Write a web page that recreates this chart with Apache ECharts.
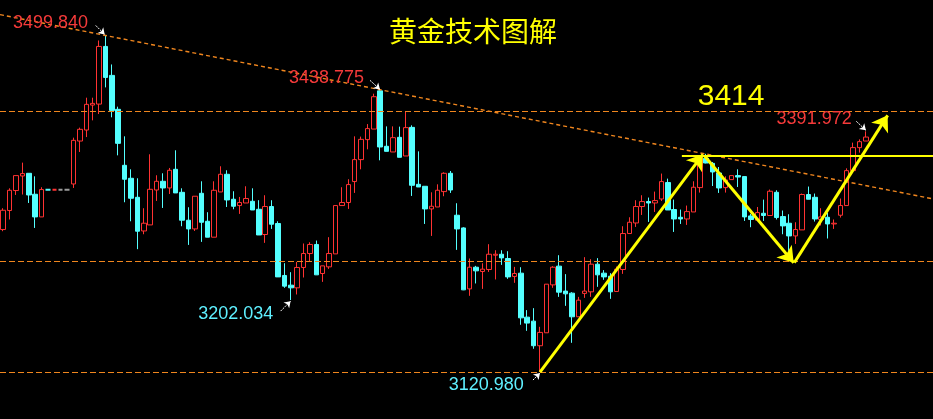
<!DOCTYPE html>
<html>
<head>
<meta charset="utf-8">
<script src="https://cdn.jsdelivr.net/npm/echarts@6/dist/echarts.min.js"></script>
<style>
html,body{margin:0;padding:0;background:#000;}
#chart{width:933px;height:419px;}
</style>
</head>
<body>
<div id="chart"></div>
<script>
// ---- data (one entry per candle) ----
const opens = [3281.4,3302.8,3325.3,3341.7,3344.7,3321.1,3295.6,3326.2,3326.2,3326.2,3326.2,3332.7,3381.0,3393.4,3421.5,3422.6,3487.5,3454.9,3416.7,3353.7,
3339.1,3317.7,3279.8,3286.6,3325.9,3335.7,3328.2,3349.2,3323.3,3291.9,3282.1,3322.2,3290.7,3272.8,3323.7,3343.6,3315.5,3308.4,3311.3,3313.2,
3304.2,3275.8,3307.3,3288.2,3229.7,3218.8,3215.8,3238.7,3254.4,3264.6,3231.9,3239.4,3254.0,3308.4,3311.8,3335.4,3360.1,3382.6,3394.5,3437.5,
3375.1,3368.7,3385.2,3364.2,3396.4,3332.3,3330.1,3304.6,3306.8,3324.1,3344.7,3297.5,3283.2,3214.6,3239.0,3234.2,3236.4,3252.5,3253.6,3248.8,
3228.6,3232.3,3182.8,3178.3,3150.6,3165.2,3219.1,3240.2,3212.1,3209.8,3183.2,3209.5,3211.3,3242.4,3232.3,3228.9,3211.7,3236.4,3276.9,3288.8,
3307.3,3312.9,3311.3,3315.8,3334.3,3303.9,3295.2,3293.3,3301.2,3328.6,3361.6,3355.9,3345.0,3328.6,3337.6,3342.1,3341.0,3296.7,3291.9,3299.7,
3297.2,3323.3,3296.0,3288.5,3274.2,3281.0,3320.8,3317.7,3292.7,3295.2,3287.7,3297.5,3308.4,3347.7,3373.6,3381.0];
const closes = [3303.1,3325.6,3342.1,3344.4,3320.3,3295.6,3326.4,3326.2,3326.2,3326.2,3326.2,3381.8,3394.2,3422.3,3423.4,3487.5,3452.6,3415.5,3378.4,3338.0,
3316.6,3279.5,3288.5,3326.7,3335.7,3328.2,3348.1,3322.6,3291.9,3282.1,3318.9,3289.6,3272.8,3325.6,3343.6,3314.7,3307.6,3311.8,3316.3,3303.4,
3275.3,3307.3,3287.4,3228.1,3217.7,3215.8,3238.7,3254.4,3264.6,3230.4,3240.5,3254.4,3308.4,3311.8,3332.0,3360.1,3382.9,3395.0,3430.9,3374.3,
3369.4,3384.8,3362.7,3396.1,3331.2,3329.3,3304.6,3307.6,3325.6,3344.7,3325.9,3282.1,3213.5,3239.0,3234.9,3236.8,3253.6,3253.6,3249.5,3228.1,
3231.9,3182.0,3176.1,3150.6,3165.6,3219.9,3239.0,3210.9,3209.0,3183.2,3201.9,3212.1,3242.4,3230.4,3228.1,3211.3,3236.8,3276.9,3289.6,3307.3,
3312.9,3311.3,3314.0,3335.4,3303.4,3293.3,3293.3,3301.6,3329.0,3361.6,3356.3,3346.2,3328.2,3337.2,3342.1,3340.5,3295.6,3292.7,3300.5,3297.2,
3324.5,3294.9,3285.5,3274.2,3281.4,3320.8,3315.5,3293.3,3295.6,3287.7,3288.5,3308.4,3347.7,3373.6,3380.3,3385.5];
const lows = [3279.5,3292.7,3320.3,3320.8,3311.3,3283.2,3295.6,3326.2,3326.2,3326.2,3326.2,3328.2,3368.7,3385.5,3404.3,3411.4,3441.4,3407.7,3364.9,3312.1,
3290.7,3259.3,3276.1,3286.6,3313.6,3305.7,3321.4,3322.6,3285.1,3264.1,3279.8,3267.5,3272.8,3272.8,3323.7,3306.8,3304.2,3299.0,3311.3,3303.4,
3275.3,3266.4,3282.1,3228.1,3215.8,3202.034,3208.3,3227.4,3245.0,3230.4,3222.5,3237.1,3254.0,3308.4,3304.6,3322.6,3349.2,3371.7,3394.5,3359.3,
3369.4,3368.7,3362.7,3364.2,3319.2,3329.3,3287.7,3274.2,3306.8,3318.9,3322.6,3258.5,3213.2,3206.8,3220.7,3214.6,3233.7,3225.2,3241.6,3225.9,
3221.4,3174.2,3167.4,3147.2,3120.98,3165.2,3215.8,3205.6,3195.5,3153.9,3183.2,3204.5,3205.6,3216.9,3224.8,3203.4,3211.7,3231.5,3276.9,3284.3,
3297.8,3290.0,3301.2,3313.6,3303.4,3278.7,3287.7,3286.6,3301.2,3323.0,3355.9,3330.4,3322.6,3323.0,3337.6,3329.3,3291.1,3284.0,3291.9,3291.1,
3297.2,3292.7,3276.1,3257.4,3265.2,3281.0,3315.5,3290.4,3285.9,3271.3,3282.1,3294.9,3308.4,3347.7,3368.0,3381.0];
const highs = [3305.4,3327.8,3342.1,3356.7,3344.7,3341.3,3329.0,3326.2,3326.2,3326.2,3326.2,3384.8,3396.1,3429.8,3429.8,3494.2,3499.84,3467.2,3419.7,3386.3,
3349.2,3339.1,3305.4,3366.1,3342.5,3344.7,3350.7,3370.6,3327.8,3306.5,3318.9,3335.7,3300.9,3335.7,3352.6,3348.1,3324.5,3318.1,3330.1,3327.8,
3314.4,3320.0,3314.4,3290.7,3243.5,3233.4,3245.0,3265.7,3267.1,3269.0,3240.5,3272.8,3308.4,3329.0,3338.0,3386.3,3386.0,3400.1,3434.3,3438.775,
3397.5,3397.5,3397.2,3414.1,3398.7,3369.4,3330.1,3323.3,3332.3,3345.8,3347.3,3311.0,3284.0,3248.8,3240.5,3243.5,3264.9,3258.1,3258.1,3257.0,
3239.4,3239.0,3190.7,3192.9,3171.9,3219.9,3240.2,3252.5,3231.2,3210.9,3205.6,3250.3,3248.0,3249.2,3235.7,3232.3,3239.8,3285.1,3295.2,3314.4,
3320.0,3317.4,3324.1,3344.4,3338.7,3315.1,3303.9,3308.4,3335.7,3363.8,3366.6,3357.4,3351.8,3341.3,3342.1,3349.2,3341.0,3299.0,3306.8,3315.1,
3326.4,3325.6,3302.8,3298.6,3289.6,3321.9,3329.8,3321.9,3305.4,3300.5,3292.7,3316.3,3350.3,3379.2,3382.9,3391.972];
const emptySlots = 10;                          // blank room on the right
const categories = opens.map((_, i) => 'K' + (i + 1))
  .concat(Array.from({length: emptySlots}, (_, i) => 'E' + (i + 1)));

// flat (no-move) candles and their tone
const flatCandles = [7, 8, 9, 10];
const flatTones = ['down', 'up', 'flat', 'flat'];

// reference levels
const levels = [3414.4, 3245.8, 3120.98];
// trend line through the two highs: [candle index, price]
const trendAnchors = [[16, 3499.84], [59, 3438.775]];
// drawn strokes: [fromIndex, fromPrice, toIndex, toPrice]
const strokes = [
  [84, 3120.98, 109.5, 3366.1],
  [109.8, 3363.8, 123.7, 3244.1],
  [123.8, 3244.1, 138.4, 3409.9]
];
const resistance = [106.2, 145.5, 3364.9];
// price tags: [text, index, price, tone]
const tags = [
  ['3499.840', 7.4, 3513.3, 'up'],
  ['3438.775', 50.6, 3452.1, 'up'],
  ['3202.034', 36.4, 3186.2, 'down'],
  ['3120.980', 75.6, 3106.4, 'down'],
  ['3391.972', 126.9, 3405.4, 'up']
];
// small pointers from tags to extremes: [fromIndex, fromPrice, toIndex, toPrice]
const pointers = [
  [14.48, 3511.1, 15.88, 3501.0],
  [57.4, 3449.3, 58.96, 3439.1],
  [43.41, 3189.6, 44.97, 3200.8],
  [82.9, 3112.0, 84.0, 3119.9],
  [133.5, 3403.2, 135.0, 3393.1]
];
const bigTag = ['3414', 113.9, 3431.3];
const titleText = '黄金技术图解';

// ---- styles ----
const UP = '#ff3232', DOWN = '#54ffff', FLAT = '#9a9a9a';
const toneColor = {up: UP, down: DOWN, flat: FLAT};
const ORANGE = '#f0861e', YELLOW = '#ffff00';
const numFont = '"Liberation Sans", Arial, sans-serif';

const candleData = opens.map((o, i) => {
  const item = {value: [o, closes[i], lows[i], highs[i]]};
  const k = flatCandles.indexOf(i);
  if (k >= 0) {
    const c = toneColor[flatTones[k]];
    item.itemStyle = {color: c, color0: c, borderColor: c, borderColor0: c, borderColorDoji: c, borderWidth: 2};
  }
  return item;
});

const slope = (trendAnchors[1][1] - trendAnchors[0][1]) / (trendAnchors[1][0] - trendAnchors[0][0]);
const trendAt = x => trendAnchors[0][1] + (x - trendAnchors[0][0]) * slope;
const xMin = -0.5, xMax = categories.length - 0.5;

const markLines = [];
levels.forEach(v => markLines.push({yAxis: v, symbol: 'none',
  lineStyle: {color: ORANGE, width: 1, type: [6, 3]}}));
markLines.push([
  {coord: [xMin, trendAt(xMin)], symbol: 'none', lineStyle: {color: ORANGE, width: 1.4, type: [4, 3]}},
  {coord: [xMax, trendAt(xMax)], symbol: 'none'}
]);
markLines.push([
  {coord: [resistance[0], resistance[2]], symbol: 'none', lineStyle: {color: YELLOW, width: 2, type: 'solid'}},
  {coord: [resistance[1], resistance[2]], symbol: 'none'}
]);
strokes.forEach(s => markLines.push([
  {coord: [s[0], s[1]], symbol: 'none', lineStyle: {color: YELLOW, width: 3, type: 'solid'}},
  {coord: [s[2], s[3]], symbol: 'arrow', symbolSize: 15}
]));
pointers.forEach(p => markLines.push([
  {coord: [p[0], p[1]], symbol: 'none', lineStyle: {color: '#ffffff', width: 1, type: [2, 1]}},
  {coord: [p[2], p[3]], symbol: 'arrow', symbolSize: 6}
]));

const markPoints = tags.map(t => ({
  coord: [t[1], t[2]],
  label: {show: true, position: 'inside', formatter: t[0], color: t[3] === 'up' ? '#f53a3a' : '#5ff0ff',
    fontSize: 18, fontFamily: numFont}
}));
markPoints.push({
  coord: [bigTag[1], bigTag[2]],
  label: {show: true, position: 'inside', formatter: bigTag[0], color: YELLOW, fontSize: 30, fontFamily: numFont}
});

const chart = echarts.init(document.getElementById('chart'), null, {renderer: 'canvas'});
chart.setOption({
  backgroundColor: '#000',
  animation: false,
  title: {
    text: titleText, left: 384, top: 12,
    textStyle: {color: YELLOW, fontSize: 28, fontWeight: 'normal', fontFamily: '"Noto Sans CJK SC", sans-serif'}
  },
  grid: {left: -4.35, width: 938.8, top: 0.5, height: 419},
  xAxis: [
    {type: 'category', data: categories, show: false, boundaryGap: true},
    {type: 'value', min: xMin, max: xMax, show: false}
  ],
  yAxis: {type: 'value', min: 3068.15, max: 3539.19, show: false, scale: true},
  series: [
    {
      type: 'candlestick',
      data: candleData,
      barWidth: 5,
      silent: true,
      itemStyle: {color: '#000', color0: DOWN, borderColor: UP, borderColor0: DOWN, borderColorDoji: UP, borderWidth: 1}
    },
    {
      type: 'line',
      xAxisIndex: 1,
      yAxisIndex: 0,
      data: [],
      silent: true,
      markLine: {silent: true, animation: false, symbol: ['none', 'none'], label: {show: false}, data: markLines},
      markPoint: {silent: true, animation: false, symbol: 'circle', symbolSize: 1,
        itemStyle: {color: 'rgba(0,0,0,0)'}, data: markPoints}
    }
  ]
});
</script>
</body>
</html>
